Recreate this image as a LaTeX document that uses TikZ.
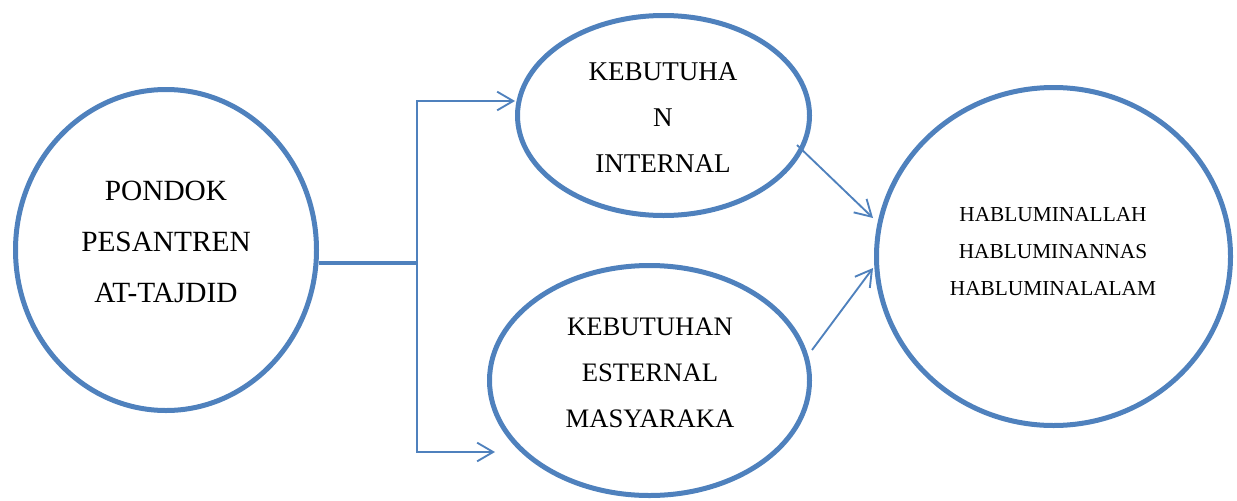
\documentclass[tikz,border=0pt]{standalone}
\usepackage{fontspec}
\setmainfont{Liberation Serif}
\usetikzlibrary{shapes.geometric,arrows.meta}
\definecolor{ublue}{RGB}{79,129,189}
\tikzset{
  oval/.style={draw=ublue,line width=3.75pt,ellipse,inner sep=0pt,fill=none},
  bigtext/.style={align=center,inner sep=0pt,font=\fontsize{20.5}{36}\selectfont},
  smalltext/.style={align=center,inner sep=0pt,font=\fontsize{16}{28}\selectfont},
  thinline/.style={draw=ublue,line width=1.4pt},
  thickline/.style={draw=ublue,line width=2.6pt},
  arr/.style={thinline,-{Straight Barb[length=12pt,width=14pt,line width=1.4pt]}}
}
\begin{document}
\begin{tikzpicture}[x=0.75pt,y=-0.75pt]
\useasboundingbox (0,0) rectangle (1237,500);
% shapes
\node[oval,minimum width=225.75pt,minimum height=240.75pt] (pondok) at (166,250) {};
\node[oval,minimum width=219pt,minimum height=150pt] (internal) at (663.5,115.5) {};
\node[oval,minimum width=240pt,minimum height=172.5pt] (eksternal) at (649.5,380.5) {};
\node[oval,minimum width=265.5pt,minimum height=253.5pt] (hablum) at (1053.5,256.5) {};
% texts
\node[bigtext,font=\fontsize{22}{38}\selectfont] (tp) at (166,242) {PONDOK\\PESANTREN\\AT-TAJDID};
\node[bigtext,font=\fontsize{20.3}{34.5}\selectfont] (ti) at (663,117.5) {KEBUTUHA\\N\\INTERNAL};
\node[bigtext,font=\fontsize{20}{34.5}\selectfont] (te) at (650,372.5) {KEBUTUHAN\\ESTERNAL\\MASYARAKA};
\node[smalltext] (th) at (1053,251.5) {HABLUMINALLAH\\HABLUMINANNAS\\HABLUMINALALAM};
% connectors
\coordinate (j) at (417,263);
\coordinate (jt) at (417,101);
\coordinate (jb) at (417,452);
\coordinate (eb) at (495,452);
\coordinate (s1) at (797,145);
\coordinate (t1) at (873,218);
\coordinate (s2) at (812,350);
\coordinate (t2) at (873,268);
\draw[thickline] (j -| pondok.east) -- (j);
\draw[arr] (j) -- (jt) -- (jt -| internal.west);
\draw[arr] (j) -- (jb) -- (eb);
\draw[arr] (s1) -- (t1);
\draw[arr] (s2) -- (t2);
\end{tikzpicture}
\end{document}
